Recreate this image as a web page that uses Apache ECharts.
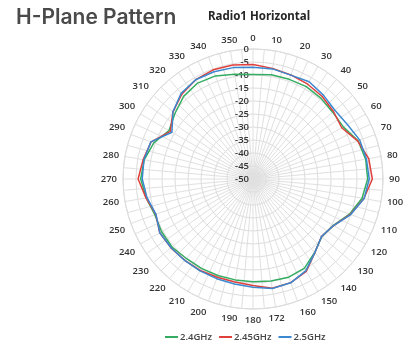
<!DOCTYPE html>
<html>
<head>
<meta charset="utf-8">
<script src="https://cdn.jsdelivr.net/npm/echarts@6/dist/echarts.min.js"></script>
<style>
html,body{margin:0;padding:0;background:#fff;}
#c{width:403px;height:343px;}
</style>
</head>
<body>
<div id="c"></div>
<script>
// Angles (degrees) at which values were read
var angles = [0,10,20,30,40,50,60,70,80,90,100,110,120,130,140,150,160,170,180,190,200,210,220,230,240,250,260,270,280,290,300,310,320,330,340,350];
// Angle-axis tick labels (original chart labels 170 as "172")
var angleLabels = ['0','10','20','30','40','50','60','70','80','90','100','110','120','130','140','150','160','172','180','190','200','210','220','230','240','250','260','270','280','290','300','310','320','330','340','350'];
// Radial tick labels
var radialTicks = [-50,-45,-40,-35,-30,-25,-20,-15,-10,-5,0];
var seriesNames = ['2.4GHz','2.45GHz','2.5GHz'];
var g24 = [-9.8,-9.3,-9.2,-9.0,-9.4,-10.0,-9.9,-7.0,-6.0,-5.9,-7.4,-10.5,-14.3,-15.5,-13.1,-10.4,-9.8,-10.2,-10.5,-10.6,-10.5,-10.3,-10.1,-9.3,-9.4,-9.8,-8.3,-6.8,-7.5,-9.4,-12.7,-10.8,-8.5,-7.4,-7.8,-9.1];
var g245 = [-6.0,-6.8,-7.4,-7.9,-8.6,-9.6,-10.6,-7.2,-4.8,-4.1,-6.7,-10.2,-14.2,-15.6,-13.0,-9.0,-7.6,-7.3,-9.0,-9.8,-9.8,-9.4,-9.2,-8.8,-8.6,-10.2,-8.2,-5.8,-7.1,-8.3,-13.3,-9.8,-7.4,-5.9,-5.3,-5.5];
var g25 = [-7.0,-7.0,-7.5,-6.8,-7.9,-8.9,-8.1,-6.3,-5.7,-5.3,-6.6,-10.0,-14.2,-15.6,-13.0,-9.3,-7.5,-7.2,-8.4,-9.0,-9.2,-9.2,-9.1,-8.9,-8.6,-10.3,-8.6,-7.4,-7.4,-8.2,-14.0,-9.8,-7.0,-5.9,-6.1,-6.5];

function toPolar(vals){
  var d = [];
  for (var i=0;i<angles.length;i++) d.push([vals[i], angles[i]]);
  d.push([vals[0], 360]);
  return d;
}
var labelMap = {};
for (var i=0;i<angles.length;i++) labelMap[angles[i]] = angleLabels[i];

var chart = echarts.init(document.getElementById('c'), null, {renderer:'canvas'});
var lblFont = '"Open Sans", "Liberation Sans", sans-serif';
chart.setOption({
  animation:false,
  backgroundColor:'#fff',
  title:[
    {text:'H-Plane Pattern', left:11, top:2, textStyle:{fontFamily:'Inter, "Noto Sans", sans-serif', fontSize:21, fontWeight:600, color:'#4a4a4a'}},
    {text:'Radio1 Horizontal', left:203, top:6, textStyle:{fontFamily:'"Noto Sans", "Liberation Sans", sans-serif', fontSize:11.5, fontWeight:'bold', color:'#262626'}}
  ],
  legend:{
    data:seriesNames, top:327, left:160, itemGap:7, itemWidth:13, itemHeight:2, icon:'rect',
    textStyle:{fontFamily:lblFont, fontSize:9.5, fontWeight:600, color:'#454545', padding:[0,0,0,-3]}
  },
  polar:{center:[253,179], radius:130},
  angleAxis:{
    type:'value', min:0, max:360, interval:5, startAngle:90, clockwise:true,
    axisLine:{show:true, lineStyle:{color:'#dcdcdc', width:1}},
    axisTick:{show:false},
    axisLabel:{margin:6, fontFamily:lblFont, fontSize:9.5, fontWeight:600, color:'#333',
      formatter:function(v){ return (v%10===0 && v<360 && labelMap[v]!==undefined) ? labelMap[v] : ''; }},
    splitLine:{show:true, lineStyle:{color:'#e0e0e0', width:1}}
  },
  radiusAxis:{
    type:'value', min:radialTicks[0], max:radialTicks[radialTicks.length-1], interval:5,
    axisLine:{show:false}, axisTick:{show:false},
    axisLabel:{fontFamily:lblFont, fontSize:9.5, fontWeight:600, color:'#333', margin:4},
    splitLine:{show:true, lineStyle:{color:'#dcdcdc', width:1}}
  },
  series:[
    {name:seriesNames[0], type:'line', coordinateSystem:'polar', data:toPolar(g24), showSymbol:false, symbol:'none', lineStyle:{width:1.5, color:'#34ad62'}, itemStyle:{color:'#34ad62'}},
    {name:seriesNames[1], type:'line', coordinateSystem:'polar', data:toPolar(g245), showSymbol:false, symbol:'none', lineStyle:{width:1.5, color:'#e0403c'}, itemStyle:{color:'#e0403c'}},
    {name:seriesNames[2], type:'line', coordinateSystem:'polar', data:toPolar(g25), showSymbol:false, symbol:'none', lineStyle:{width:1.5, color:'#3b88d0'}, itemStyle:{color:'#3b88d0'}}
  ]
});
</script>
</body>
</html>
